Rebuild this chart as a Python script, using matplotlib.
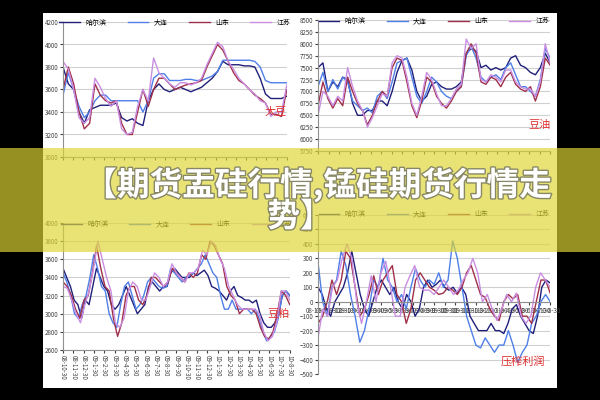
import numpy as np
import matplotlib.pyplot as plt
import matplotlib.patheffects as pe
from matplotlib.patches import Rectangle

plt.rcParams['font.family'] = ['Noto Sans CJK SC', 'DejaVu Sans']

names = ["哈尔滨", "大连", "山东", "江苏"]
colors = ["#1f1f7a", "#4f7fe8", "#a0304a", "#c98ee2"]

# 大豆
soy_hrb = [3800,3650,3600,3400,3300,3420,3440,3460,3460,3460,3480,3350,3320,3340,3300,3280,3500,3600,3650,3600,3580,3600,3620,3600,3580,3600,3620,3660,3700,3760,3850,3820,3820,3820,3810,3810,3800,3700,3560,3520,3520,3520,3540]
soy_dl = [3550,3750,3600,3450,3350,3400,3500,3550,3550,3500,3500,3500,3500,3500,3500,3400,3500,3700,3740,3740,3680,3680,3680,3690,3690,3680,3680,3700,3720,3760,3860,3860,3860,3860,3860,3860,3850,3800,3680,3660,3660,3660,3660]
soy_sd = [3600,3800,3650,3400,3250,3300,3650,3550,3500,3480,3500,3300,3200,3200,3400,3600,3450,3600,3700,3700,3650,3600,3620,3640,3650,3660,3680,3800,3900,4000,3950,3850,3750,3680,3650,3600,3550,3520,3480,3380,3380,3360,3600]
soy_js = [3850,3780,3600,3350,3300,3350,3700,3620,3520,3450,3500,3250,3200,3220,3450,3600,3500,3880,3750,3700,3650,3620,3660,3660,3640,3660,3700,3820,3920,4020,3980,3850,3780,3700,3650,3600,3560,3500,3480,3360,3400,3400,3640]

# 豆油
oil_hrb = [7500,7600,7000,7200,7100,7300,7250,6750,6500,6500,6600,6600,6800,6800,6700,7000,7400,7650,7700,7450,7000,6800,6900,7150,7200,7100,7050,7050,7100,7200,7800,7900,7850,7500,7550,7450,7500,7450,7500,7700,7750,7550,7500,7400,7350,7500,7800,7600]
oil_dl = [7100,7400,7000,7250,7050,7300,7200,6800,6700,6600,6650,6550,6900,7000,6850,7200,7600,7650,7700,7300,6900,6750,7000,7300,7200,7000,6900,6850,7000,7100,7750,7950,7700,7300,7200,7300,7350,7250,7500,7600,7350,7100,7100,7000,6900,7250,7900,7700]
oil_sd = [6700,7200,6850,6650,6850,6700,7300,7000,6750,6600,6300,6500,6800,7000,6900,7500,7700,7650,7200,6700,6450,6800,7300,7200,6900,6750,6650,6800,7000,7100,7800,8000,7800,7200,7150,7300,7250,7100,7300,7400,7150,7050,7000,7100,6800,7100,7700,7550]
oil_js = [6500,7000,6900,6700,6900,6800,7500,7100,6800,6600,6250,6450,6700,6950,6900,7600,7750,7700,7300,6750,6500,6900,7400,7250,6950,6700,6700,6850,7050,7150,8100,7900,8000,7250,7200,7350,7300,7200,7450,7450,7200,7100,7050,7050,6900,7200,8000,7600]

# 豆粕
meal_hrb = [3500,3400,3300,3150,3100,2950,3150,3100,3300,3500,3400,3300,3250,3100,3050,3100,3200,3300,3200,3100,3000,3050,3100,3300,3350,3300,3250,3300,3300,3450,3500,3450,3400,3400,3400,3450,3420,3450,3480,3420,3300,3280,3250,3200,3150,3250,3300,3200,3180,3150,3150,3120,3150,3000,2900,2850,2850,2900,3000,3200,3250,3200]
meal_dl = [3450,3350,3200,3000,2950,3100,3200,3400,3650,3500,3300,3250,3000,2900,2850,3100,3300,3350,3200,3050,3100,3200,3350,3400,3350,3300,3280,3300,3500,3450,3400,3350,3400,3420,3450,3500,3550,3650,3550,3450,3400,3200,3050,3050,3150,3050,3050,3050,3050,3000,3050,2950,2800,2700,2750,2800,2950,3200,3250,3200]
meal_sd = [3350,3300,3200,3050,2950,3150,3200,3450,3750,3500,3300,3250,2950,2750,2900,3200,3300,3300,3150,3100,3200,3400,3400,3350,3300,3350,3500,3450,3400,3350,3450,3400,3450,3650,3600,3800,3750,3650,3550,3300,3200,3150,3000,3050,3050,3050,3000,2850,2750,2720,2800,3000,3250,3200,3100]
meal_js = [3300,3280,3150,3000,2900,3100,3250,3500,3800,3600,3400,3250,2900,2850,2950,3250,3350,3300,3150,3150,3300,3450,3400,3300,3350,3550,3450,3400,3350,3450,3450,3500,3700,3650,3800,3750,3600,3500,3300,3200,3100,3050,3050,3050,3050,3000,2800,2700,2750,2900,3250,3250,3150]

# 压榨利润
pr_hrb = [100,50,-50,-100,0,50,100,200,350,200,50,-50,-100,0,100,150,100,50,100,0,-50,50,0,-100,-50,100,150,100,120,150,100,80,100,60,100,50,-100,-150,-200,-200,-200,-150,-200,-200,-220,-150,-50,-20,-100,-150,-200,-220,-100,100,150,130]
pr_dl = [270,0,-100,100,150,350,250,50,-100,-280,-200,-50,150,100,300,150,100,0,50,-50,100,230,150,100,150,120,200,100,150,420,300,100,-100,-200,-300,-320,-250,-300,-350,-300,-300,-200,-300,-420,-350,-300,-150,-100,0,50,0]
pr_sd = [-150,-100,0,150,50,150,350,300,100,-100,-50,50,180,50,150,200,250,50,0,-150,-50,150,200,150,100,80,50,60,100,80,50,100,200,250,150,50,30,-50,-100,-130,0,50,20,50,-100,-100,-150,0,150,150,60]
pr_js = [-250,-50,-100,100,150,300,400,300,0,-150,0,180,0,200,280,100,-100,-100,100,180,250,100,80,80,50,100,150,100,50,80,150,200,300,200,0,50,-50,-130,-50,50,0,60,-100,-150,-100,100,200,150,100]

dates = ["08-10-30", "08-11-30", "08-12-30"] + ["09-%d-30" % m for m in range(1, 13)] + ["10-%d-30" % m for m in range(1, 9)]

fig = plt.figure(figsize=(6, 4), dpi=100, facecolor="black")
fig.patches.append(Rectangle((43/600, 1-388/400), 514/600, 375/400, transform=fig.transFigure,
                             facecolor="white", edgecolor="none", zorder=-10))


def panel(rect, series, ylim, step, label, label_xy, date_y=None):
    ax = fig.add_axes(rect, zorder=1)
    ax.set_facecolor("none")
    for s, c, n in zip(series, colors, names):
        ax.plot(np.linspace(0, 1, len(s)), s, color=c, lw=1.0, label=n)
    ax.set_xlim(0, 1)
    ax.set_ylim(*ylim)
    ax.set_yticks(np.arange(ylim[0], ylim[1] + 1, step))
    ax.yaxis.grid(True, color="#d0d0d0", lw=0.8)
    ax.set_axisbelow(True)
    for sp in ["top", "right"]:
        ax.spines[sp].set_visible(False)
    ax.spines["left"].set_color("#909090")
    ax.spines["bottom"].set_color("#909090")
    ax.tick_params(labelsize=4.5, length=2, pad=1.5, colors="#404040")
    ax.set_xticks(np.linspace(0, 1, 23))
    if date_y is None:
        ax.set_xticklabels([])
    else:
        ax.set_xticklabels(dates, rotation=-90, fontsize=4.5)
        if date_y != "bottom":
            ax.spines["bottom"].set_position(("data", date_y))
    ax.legend(loc="upper center", bbox_to_anchor=(0.5, 1.07), ncol=4, fontsize=5, frameon=False,
              handlelength=3, columnspacing=3)
    ax.text(label_xy[0], label_xy[1], label, transform=ax.transAxes, color="#e03030", fontsize=8,
            ha="right", va="center")
    return ax


panel([0.105, 0.6075, 0.373, 0.3375], [soy_hrb, soy_dl, soy_sd, soy_js], (3000, 4200), 200, "大豆", (1.0, 0.33))
panel([0.53, 0.6225, 0.387, 0.3275], [oil_hrb, oil_dl, oil_sd, oil_js], (5750, 8500), 250, "豆油", (1.0, 0.2))
panel([0.105, 0.125, 0.378, 0.3175], [meal_hrb, meal_dl, meal_sd, meal_js], (2600, 4000), 200, "豆粕", (1.0, 0.28), "bottom")
panel([0.53, 0.065, 0.387, 0.3975], [pr_hrb, pr_dl, pr_sd, pr_js], (-500, 600), 100, "压榨利润", (0.98, 0.08), 0)

banner = Rectangle((0, 1-252/400), 1, 104/400, transform=fig.transFigure,
                   facecolor=(0.87, 0.84, 0.2), alpha=0.68, edgecolor="none", zorder=5)
fig.add_artist(banner)
stroke = [pe.withStroke(linewidth=2, foreground="#888866")]
fig.text(0.53, 1-185/400, "【期货盂硅行情,锰硅期货行情走", color="white", fontsize=23.5, fontweight="bold",
         ha="center", va="center", zorder=10, path_effects=stroke)
fig.text(0.5, 1-217/400, "势】", color="white", fontsize=23.5, fontweight="bold",
         ha="center", va="center", zorder=10, path_effects=stroke)

fig.savefig("out.png", dpi=100, facecolor="black")
